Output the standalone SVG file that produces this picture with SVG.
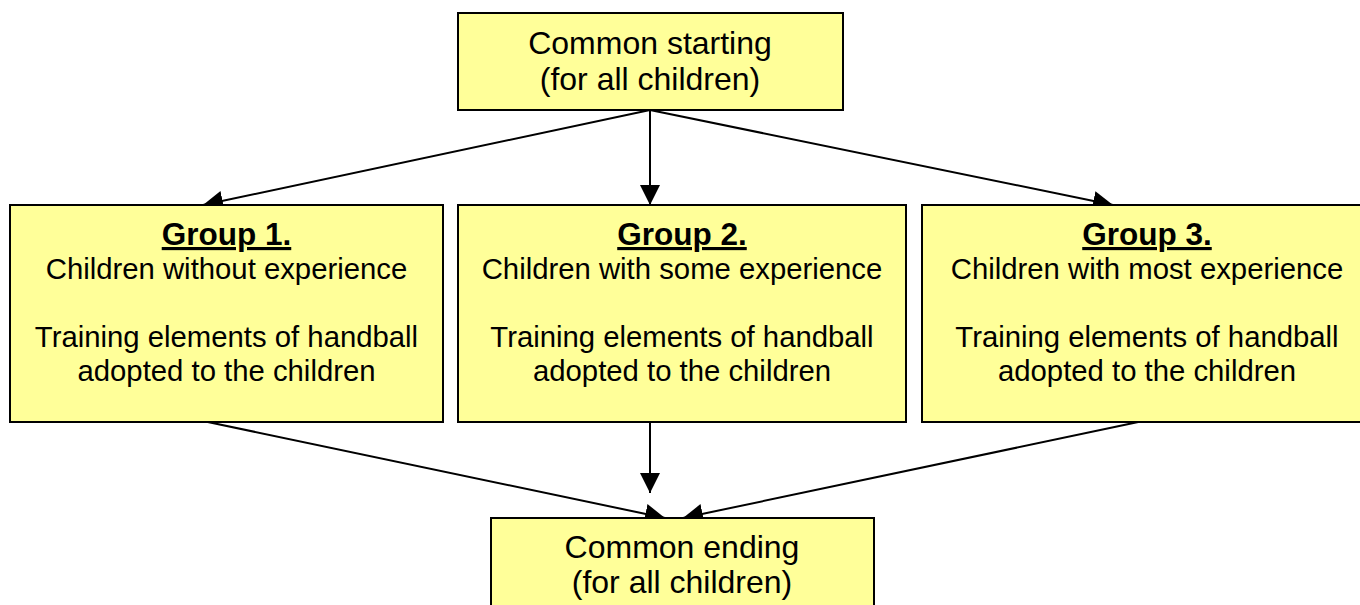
<svg xmlns="http://www.w3.org/2000/svg" width="1360" height="605" viewBox="0 0 1360 605">
<style>
.box{fill:#FFFF99;stroke:#000;stroke-width:2}
.t{font-family:"Liberation Sans",Arial,sans-serif;fill:#000;text-anchor:middle}
.big{font-size:32px}
.mid{font-size:29.3px}
.hd{font-size:31.5px;font-weight:bold;text-decoration:underline}
.c{stroke:#000;stroke-width:2;fill:none;marker-end:url(#ah)}
</style>
<defs>
<marker id="ah" markerUnits="userSpaceOnUse" markerWidth="21" markerHeight="21" refX="20" refY="10" orient="auto" viewBox="0 0 21 20">
<path d="M0,0 L20,10 L0,20 z" fill="#000"/>
</marker>
</defs>
<rect width="1360" height="605" fill="#fff"/>
<g id="connectors">
<line class="c" x1="650" y1="110" x2="650" y2="205"/>
<line class="c" x1="650" y1="110" x2="203" y2="205"/>
<line class="c" x1="650" y1="110" x2="1113" y2="205"/>
<line class="c" x1="650" y1="421" x2="650" y2="493"/>
<line class="c" x1="203" y1="421" x2="665" y2="518"/>
<line class="c" x1="1143" y1="421" x2="683" y2="518"/>
</g>
<g id="start">
<rect class="box" x="458" y="13" width="385" height="97"/>
<text class="t big" x="650" y="54">Common starting</text>
<text class="t big" x="650" y="90">(for all children)</text>
</g>
<g id="group1">
<rect class="box" x="10" y="205" width="433" height="217"/>
<text class="t hd" x="226.5" y="245">Group 1.</text>
<text class="t mid" x="226.5" y="279">Children without experience</text>
<text class="t mid" x="226.5" y="347">Training elements of handball</text>
<text class="t mid" x="226.5" y="381">adopted to the children</text>
</g>
<g id="group2">
<rect class="box" x="458" y="205" width="448" height="217"/>
<text class="t hd" x="682" y="245">Group 2.</text>
<text class="t mid" x="682" y="279">Children with some experience</text>
<text class="t mid" x="682" y="347">Training elements of handball</text>
<text class="t mid" x="682" y="381">adopted to the children</text>
</g>
<g id="group3">
<rect class="box" x="922" y="205" width="452" height="217"/>
<text class="t hd" x="1147" y="245">Group 3.</text>
<text class="t mid" x="1147" y="279">Children with most experience</text>
<text class="t mid" x="1147" y="347">Training elements of handball</text>
<text class="t mid" x="1147" y="381">adopted to the children</text>
</g>
<g id="end">
<rect class="box" x="491" y="518" width="383" height="100"/>
<text class="t big" x="682" y="558">Common ending</text>
<text class="t big" x="682" y="593">(for all children)</text>
</g>
</svg>
